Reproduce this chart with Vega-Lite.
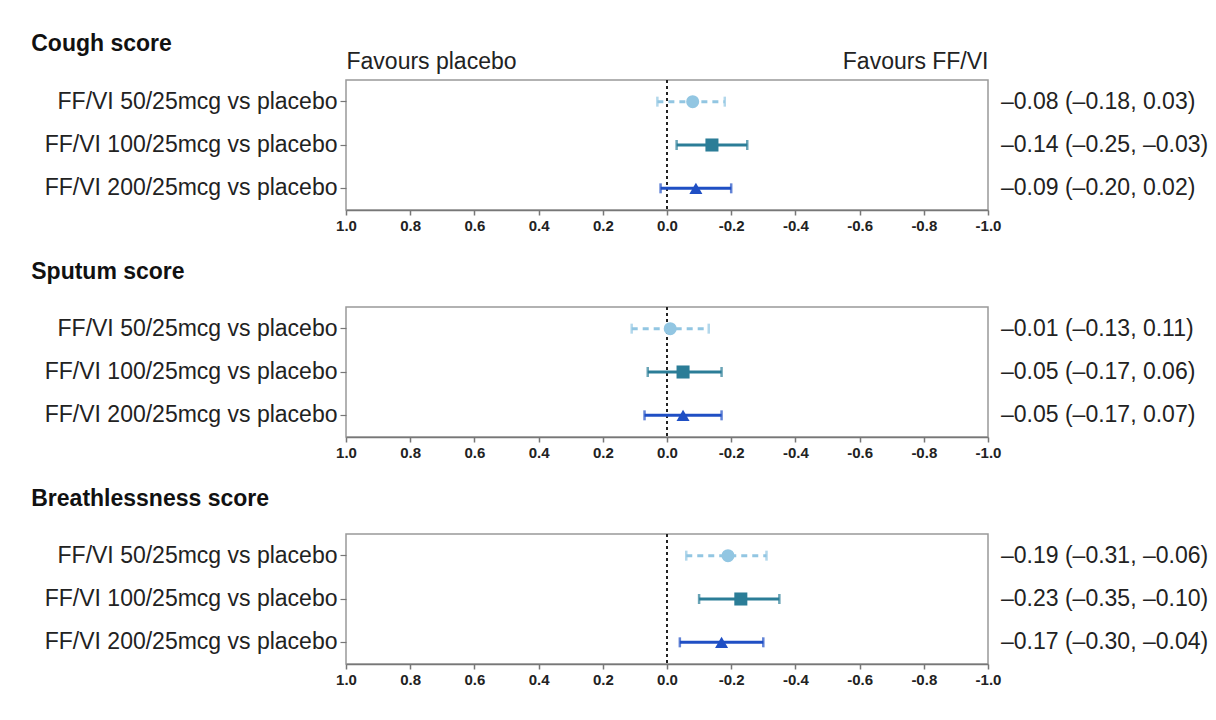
{
  "$schema": "https://vega.github.io/schema/vega-lite/v6.json",
  "background": "white",
  "padding": {"left": 30, "top": 32, "right": 0, "bottom": 0},
  "spacing": 26,
  "data": {"values": [
    {"score": "Cough score", "dose": "FF/VI 50/25mcg vs placebo", "est": -0.08, "lower": -0.18, "upper": 0.03, "label": "–0.08 (–0.18, 0.03)"},
    {"score": "Cough score", "dose": "FF/VI 100/25mcg vs placebo", "est": -0.14, "lower": -0.25, "upper": -0.03, "label": "–0.14 (–0.25, –0.03)"},
    {"score": "Cough score", "dose": "FF/VI 200/25mcg vs placebo", "est": -0.09, "lower": -0.20, "upper": 0.02, "label": "–0.09 (–0.20, 0.02)"},
    {"score": "Sputum score", "dose": "FF/VI 50/25mcg vs placebo", "est": -0.01, "lower": -0.13, "upper": 0.11, "label": "–0.01 (–0.13, 0.11)"},
    {"score": "Sputum score", "dose": "FF/VI 100/25mcg vs placebo", "est": -0.05, "lower": -0.17, "upper": 0.06, "label": "–0.05 (–0.17, 0.06)"},
    {"score": "Sputum score", "dose": "FF/VI 200/25mcg vs placebo", "est": -0.05, "lower": -0.17, "upper": 0.07, "label": "–0.05 (–0.17, 0.07)"},
    {"score": "Breathlessness score", "dose": "FF/VI 50/25mcg vs placebo", "est": -0.19, "lower": -0.31, "upper": -0.06, "label": "–0.19 (–0.31, –0.06)"},
    {"score": "Breathlessness score", "dose": "FF/VI 100/25mcg vs placebo", "est": -0.23, "lower": -0.35, "upper": -0.10, "label": "–0.23 (–0.35, –0.10)"},
    {"score": "Breathlessness score", "dose": "FF/VI 200/25mcg vs placebo", "est": -0.17, "lower": -0.30, "upper": -0.04, "label": "–0.17 (–0.30, –0.04)"}
  ]},
  "vconcat": [
    {
      "title": {"text": "Cough score", "dx": -13, "offset": -6},
      "width": 642, "height": 130,
      "transform": [{"filter": "datum.score === 'Cough score'"}],
      "layer": [
        {"mark": {"type": "rule", "strokeDash": [3, 3], "color": "#222", "strokeWidth": 2},
         "encoding": {"x": {"datum": 0, "type": "quantitative", "scale": {"domain": [-1, 1], "reverse": true, "nice": false, "zero": false},
           "axis": {"orient": "top", "values": [1, -1], "labelExpr": "datum.value == 1 ? 'Favours placebo' : 'Favours FF/VI'", "labelFlush": true, "domain": false, "ticks": false, "labelFontSize": 23, "labelFontWeight": "normal", "labelPadding": 7, "labelColor": "#222", "title": null, "grid": false}}}},
        {"mark": {"type": "rule", "strokeWidth": 3},
         "encoding": {
           "x": {"field": "upper", "type": "quantitative", "scale": {"domain": [-1, 1], "reverse": true, "nice": false, "zero": false},
             "axis": {"orient": "bottom", "values": [1, 0.8, 0.6, 0.4, 0.2, 0, -0.2, -0.4, -0.6, -0.8, -1], "format": ".1f", "labelExpr": "replace(datum.label, '\u2212', '-')", "title": null, "grid": false}},
           "x2": {"field": "lower"},
           "y": {"field": "dose", "type": "nominal", "sort": ["FF/VI 50/25mcg vs placebo", "FF/VI 100/25mcg vs placebo", "FF/VI 200/25mcg vs placebo"], "title": null},
           "color": {"field": "dose", "type": "nominal", "scale": {"domain": ["FF/VI 50/25mcg vs placebo", "FF/VI 100/25mcg vs placebo", "FF/VI 200/25mcg vs placebo"], "range": ["#92c6e2", "#2b7d97", "#1f4fc4"]}, "legend": null},
           "strokeDash": {"field": "dose", "type": "nominal", "scale": {"domain": ["FF/VI 50/25mcg vs placebo", "FF/VI 100/25mcg vs placebo", "FF/VI 200/25mcg vs placebo"], "range": [[6, 5], [1, 0], [1, 0]]}, "legend": null}
         }},
        {"mark": {"type": "tick", "thickness": 2.5, "size": 10},
         "encoding": {
           "x": {"field": "upper", "type": "quantitative", "scale": {"domain": [-1, 1], "reverse": true, "nice": false, "zero": false}, "axis": null},
           "y": {"field": "dose", "type": "nominal", "sort": ["FF/VI 50/25mcg vs placebo", "FF/VI 100/25mcg vs placebo", "FF/VI 200/25mcg vs placebo"], "title": null},
           "color": {"field": "dose", "type": "nominal", "legend": null}
         }},
        {"mark": {"type": "tick", "thickness": 2.5, "size": 10},
         "encoding": {
           "x": {"field": "lower", "type": "quantitative", "scale": {"domain": [-1, 1], "reverse": true, "nice": false, "zero": false}, "axis": null},
           "y": {"field": "dose", "type": "nominal", "sort": ["FF/VI 50/25mcg vs placebo", "FF/VI 100/25mcg vs placebo", "FF/VI 200/25mcg vs placebo"], "title": null},
           "color": {"field": "dose", "type": "nominal", "legend": null}
         }},
        {"mark": {"type": "point", "filled": true, "size": 170, "opacity": 1},
         "encoding": {
           "x": {"field": "est", "type": "quantitative", "scale": {"domain": [-1, 1], "reverse": true, "nice": false, "zero": false}, "axis": null},
           "y": {"field": "dose", "type": "nominal", "sort": ["FF/VI 50/25mcg vs placebo", "FF/VI 100/25mcg vs placebo", "FF/VI 200/25mcg vs placebo"], "title": null},
           "color": {"field": "dose", "type": "nominal", "legend": null},
           "shape": {"field": "dose", "type": "nominal", "scale": {"domain": ["FF/VI 50/25mcg vs placebo", "FF/VI 100/25mcg vs placebo", "FF/VI 200/25mcg vs placebo"], "range": ["circle", "square", "triangle-up"]}, "legend": null}
         }},
        {"mark": {"type": "text", "align": "left", "baseline": "middle", "dx": 13, "fontSize": 23, "color": "#222"},
         "encoding": {
           "x": {"datum": -1, "type": "quantitative", "scale": {"domain": [-1, 1], "reverse": true, "nice": false, "zero": false}, "axis": null},
           "y": {"field": "dose", "type": "nominal", "sort": ["FF/VI 50/25mcg vs placebo", "FF/VI 100/25mcg vs placebo", "FF/VI 200/25mcg vs placebo"], "title": null},
           "text": {"field": "label"}
         }}
      ],
      "resolve": {"axis": {"x": "independent"}}
    },
    {
      "title": {"text": "Sputum score", "dx": -13, "offset": 22},
      "width": 642, "height": 130,
      "transform": [{"filter": "datum.score === 'Sputum score'"}],
      "layer": [
        {"mark": {"type": "rule", "strokeDash": [3, 3], "color": "#222", "strokeWidth": 2},
         "encoding": {"x": {"datum": 0, "type": "quantitative", "scale": {"domain": [-1, 1], "reverse": true, "nice": false, "zero": false}, "axis": null}}},
        {"mark": {"type": "rule", "strokeWidth": 3},
         "encoding": {
           "x": {"field": "upper", "type": "quantitative", "scale": {"domain": [-1, 1], "reverse": true, "nice": false, "zero": false},
             "axis": {"orient": "bottom", "values": [1, 0.8, 0.6, 0.4, 0.2, 0, -0.2, -0.4, -0.6, -0.8, -1], "format": ".1f", "labelExpr": "replace(datum.label, '\u2212', '-')", "title": null, "grid": false}},
           "x2": {"field": "lower"},
           "y": {"field": "dose", "type": "nominal", "sort": ["FF/VI 50/25mcg vs placebo", "FF/VI 100/25mcg vs placebo", "FF/VI 200/25mcg vs placebo"], "title": null},
           "color": {"field": "dose", "type": "nominal", "scale": {"domain": ["FF/VI 50/25mcg vs placebo", "FF/VI 100/25mcg vs placebo", "FF/VI 200/25mcg vs placebo"], "range": ["#92c6e2", "#2b7d97", "#1f4fc4"]}, "legend": null},
           "strokeDash": {"field": "dose", "type": "nominal", "scale": {"domain": ["FF/VI 50/25mcg vs placebo", "FF/VI 100/25mcg vs placebo", "FF/VI 200/25mcg vs placebo"], "range": [[6, 5], [1, 0], [1, 0]]}, "legend": null}
         }},
        {"mark": {"type": "tick", "thickness": 2.5, "size": 10},
         "encoding": {
           "x": {"field": "upper", "type": "quantitative", "scale": {"domain": [-1, 1], "reverse": true, "nice": false, "zero": false}, "axis": null},
           "y": {"field": "dose", "type": "nominal", "sort": ["FF/VI 50/25mcg vs placebo", "FF/VI 100/25mcg vs placebo", "FF/VI 200/25mcg vs placebo"], "title": null},
           "color": {"field": "dose", "type": "nominal", "legend": null}
         }},
        {"mark": {"type": "tick", "thickness": 2.5, "size": 10},
         "encoding": {
           "x": {"field": "lower", "type": "quantitative", "scale": {"domain": [-1, 1], "reverse": true, "nice": false, "zero": false}, "axis": null},
           "y": {"field": "dose", "type": "nominal", "sort": ["FF/VI 50/25mcg vs placebo", "FF/VI 100/25mcg vs placebo", "FF/VI 200/25mcg vs placebo"], "title": null},
           "color": {"field": "dose", "type": "nominal", "legend": null}
         }},
        {"mark": {"type": "point", "filled": true, "size": 170, "opacity": 1},
         "encoding": {
           "x": {"field": "est", "type": "quantitative", "scale": {"domain": [-1, 1], "reverse": true, "nice": false, "zero": false}, "axis": null},
           "y": {"field": "dose", "type": "nominal", "sort": ["FF/VI 50/25mcg vs placebo", "FF/VI 100/25mcg vs placebo", "FF/VI 200/25mcg vs placebo"], "title": null},
           "color": {"field": "dose", "type": "nominal", "legend": null},
           "shape": {"field": "dose", "type": "nominal", "scale": {"domain": ["FF/VI 50/25mcg vs placebo", "FF/VI 100/25mcg vs placebo", "FF/VI 200/25mcg vs placebo"], "range": ["circle", "square", "triangle-up"]}, "legend": null}
         }},
        {"mark": {"type": "text", "align": "left", "baseline": "middle", "dx": 13, "fontSize": 23, "color": "#222"},
         "encoding": {
           "x": {"datum": -1, "type": "quantitative", "scale": {"domain": [-1, 1], "reverse": true, "nice": false, "zero": false}, "axis": null},
           "y": {"field": "dose", "type": "nominal", "sort": ["FF/VI 50/25mcg vs placebo", "FF/VI 100/25mcg vs placebo", "FF/VI 200/25mcg vs placebo"], "title": null},
           "text": {"field": "label"}
         }}
      ],
      "resolve": {"axis": {"x": "independent"}}
    },
    {
      "title": {"text": "Breathlessness score", "dx": -13, "offset": 22},
      "width": 642, "height": 130,
      "transform": [{"filter": "datum.score === 'Breathlessness score'"}],
      "layer": [
        {"mark": {"type": "rule", "strokeDash": [3, 3], "color": "#222", "strokeWidth": 2},
         "encoding": {"x": {"datum": 0, "type": "quantitative", "scale": {"domain": [-1, 1], "reverse": true, "nice": false, "zero": false}, "axis": null}}},
        {"mark": {"type": "rule", "strokeWidth": 3},
         "encoding": {
           "x": {"field": "upper", "type": "quantitative", "scale": {"domain": [-1, 1], "reverse": true, "nice": false, "zero": false},
             "axis": {"orient": "bottom", "values": [1, 0.8, 0.6, 0.4, 0.2, 0, -0.2, -0.4, -0.6, -0.8, -1], "format": ".1f", "labelExpr": "replace(datum.label, '\u2212', '-')", "title": null, "grid": false}},
           "x2": {"field": "lower"},
           "y": {"field": "dose", "type": "nominal", "sort": ["FF/VI 50/25mcg vs placebo", "FF/VI 100/25mcg vs placebo", "FF/VI 200/25mcg vs placebo"], "title": null},
           "color": {"field": "dose", "type": "nominal", "scale": {"domain": ["FF/VI 50/25mcg vs placebo", "FF/VI 100/25mcg vs placebo", "FF/VI 200/25mcg vs placebo"], "range": ["#92c6e2", "#2b7d97", "#1f4fc4"]}, "legend": null},
           "strokeDash": {"field": "dose", "type": "nominal", "scale": {"domain": ["FF/VI 50/25mcg vs placebo", "FF/VI 100/25mcg vs placebo", "FF/VI 200/25mcg vs placebo"], "range": [[6, 5], [1, 0], [1, 0]]}, "legend": null}
         }},
        {"mark": {"type": "tick", "thickness": 2.5, "size": 10},
         "encoding": {
           "x": {"field": "upper", "type": "quantitative", "scale": {"domain": [-1, 1], "reverse": true, "nice": false, "zero": false}, "axis": null},
           "y": {"field": "dose", "type": "nominal", "sort": ["FF/VI 50/25mcg vs placebo", "FF/VI 100/25mcg vs placebo", "FF/VI 200/25mcg vs placebo"], "title": null},
           "color": {"field": "dose", "type": "nominal", "legend": null}
         }},
        {"mark": {"type": "tick", "thickness": 2.5, "size": 10},
         "encoding": {
           "x": {"field": "lower", "type": "quantitative", "scale": {"domain": [-1, 1], "reverse": true, "nice": false, "zero": false}, "axis": null},
           "y": {"field": "dose", "type": "nominal", "sort": ["FF/VI 50/25mcg vs placebo", "FF/VI 100/25mcg vs placebo", "FF/VI 200/25mcg vs placebo"], "title": null},
           "color": {"field": "dose", "type": "nominal", "legend": null}
         }},
        {"mark": {"type": "point", "filled": true, "size": 170, "opacity": 1},
         "encoding": {
           "x": {"field": "est", "type": "quantitative", "scale": {"domain": [-1, 1], "reverse": true, "nice": false, "zero": false}, "axis": null},
           "y": {"field": "dose", "type": "nominal", "sort": ["FF/VI 50/25mcg vs placebo", "FF/VI 100/25mcg vs placebo", "FF/VI 200/25mcg vs placebo"], "title": null},
           "color": {"field": "dose", "type": "nominal", "legend": null},
           "shape": {"field": "dose", "type": "nominal", "scale": {"domain": ["FF/VI 50/25mcg vs placebo", "FF/VI 100/25mcg vs placebo", "FF/VI 200/25mcg vs placebo"], "range": ["circle", "square", "triangle-up"]}, "legend": null}
         }},
        {"mark": {"type": "text", "align": "left", "baseline": "middle", "dx": 13, "fontSize": 23, "color": "#222"},
         "encoding": {
           "x": {"datum": -1, "type": "quantitative", "scale": {"domain": [-1, 1], "reverse": true, "nice": false, "zero": false}, "axis": null},
           "y": {"field": "dose", "type": "nominal", "sort": ["FF/VI 50/25mcg vs placebo", "FF/VI 100/25mcg vs placebo", "FF/VI 200/25mcg vs placebo"], "title": null},
           "text": {"field": "label"}
         }}
      ],
      "resolve": {"axis": {"x": "independent"}}
    }
  ],
  "config": {
    "font": "Liberation Sans",
    "view": {"stroke": "#999999", "strokeWidth": 1.5},
    "title": {"font": "Liberation Sans", "fontSize": 23, "fontWeight": "bold", "color": "#111111", "anchor": "start"},
    "text": {"font": "Liberation Sans"},
    "axisX": {"labelFont": "Liberation Sans", "labelFontSize": 15, "labelFontWeight": "bold", "labelColor": "#222222", "labelPadding": 3, "labelFlush": false, "tickSize": 5, "tickColor": "#777777", "tickWidth": 1.5, "domainColor": "#777777", "domainWidth": 1.5, "labelAngle": 0},
    "axisY": {"labelFont": "Liberation Sans", "labelFontSize": 23, "labelLimit": 0, "labelColor": "#222222", "labelPadding": 3, "tickSize": 6, "tickColor": "#777777", "tickWidth": 1.2, "domain": false, "grid": false},
    "scale": {"bandPaddingInner": 0, "bandPaddingOuter": 0}
  }
}
